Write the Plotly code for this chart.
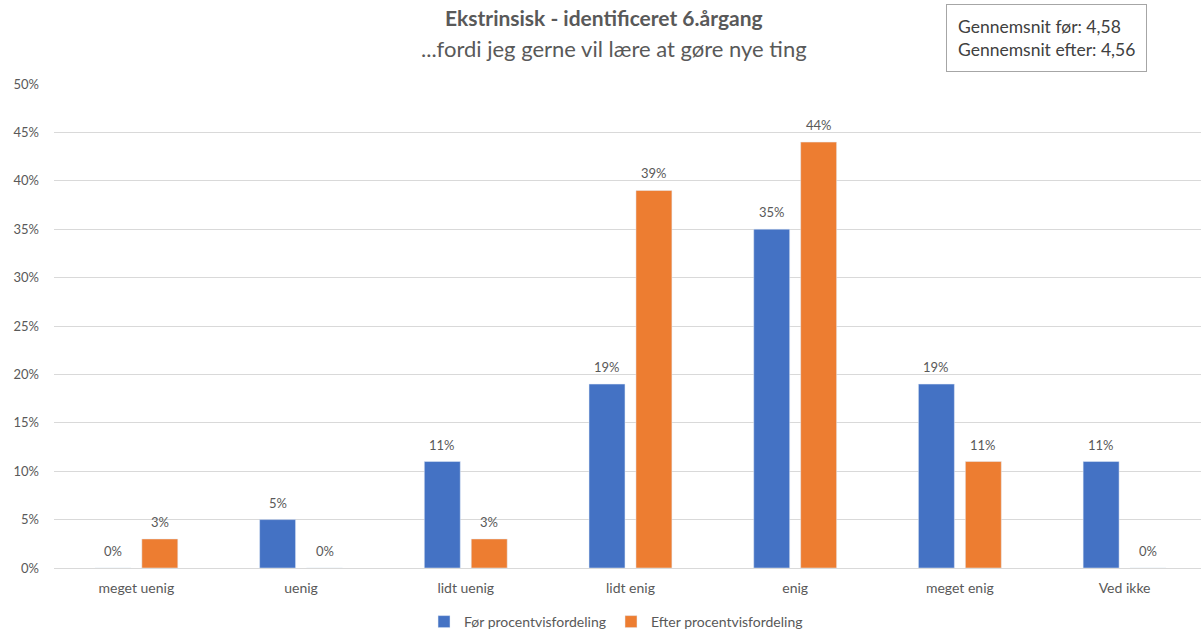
import plotly.graph_objects as go

categories = ["meget uenig", "uenig", "lidt uenig", "lidt enig", "enig", "meget enig", "Ved ikke"]
foer = [0, 5, 11, 19, 35, 19, 11]
efter = [3, 0, 3, 39, 44, 11, 0]
y_ticks = [0, 5, 10, 15, 20, 25, 30, 35, 40, 45, 50]

FONT = "Lato"
GREY = "#595959"
W, H = 1201, 632
ML, MR, MT, MB = 54, 0, 84, 64

fig = go.Figure()
fig.add_trace(go.Bar(x=categories, y=foer, name="Før procentvisfordeling",
                     marker=dict(color="#4472C4")))
fig.add_trace(go.Bar(x=categories, y=efter, name="Efter procentvisfordeling",
                     marker=dict(color="#ED7D31")))


def px_to_paper(px, py):
    return (px - ML) / (W - ML - MR), (H - MB - py) / (H - MT - MB)


annotations = []
# value labels above each bar
for vals, shift in ((foer, -23.5), (efter, 23.5)):
    for cat, v in zip(categories, vals):
        annotations.append(dict(
            x=cat, y=v, xref="x", yref="y", text=f"{v}%", showarrow=False,
            xshift=shift, yshift=17, yanchor="middle",
            font=dict(size=13, color=GREY),
        ))

tx, ty = px_to_paper(604, 18)
annotations.append(dict(text="<b>Ekstrinsisk - identificeret 6.årgang</b>", x=tx, y=ty,
                        xref="paper", yref="paper", xanchor="center", yanchor="middle",
                        showarrow=False, font=dict(size=21, color=GREY)))
sx, sy = px_to_paper(614, 48)
annotations.append(dict(text="...fordi jeg gerne vil lære at gøre nye ting", x=sx, y=sy,
                        xref="paper", yref="paper", xanchor="center", yanchor="middle",
                        showarrow=False, font=dict(size=22, color=GREY)))
bx, by = px_to_paper(1046, 37.5)
annotations.append(dict(text="Gennemsnit før: 4,58<br>Gennemsnit efter: 4,56", x=bx, y=by,
                        xref="paper", yref="paper", xanchor="center", yanchor="middle",
                        showarrow=False, align="left", font=dict(size=17.5, color="#404040"),
                        bordercolor="#a6a6a6", borderwidth=1, borderpad=11, bgcolor="white"))

fig.update_layout(
    width=W, height=H,
    margin=dict(l=ML, r=MR, t=MT, b=MB, autoexpand=False),
    paper_bgcolor="white", plot_bgcolor="white",
    font=dict(family=FONT, color=GREY, size=13),
    barmode="group", bargap=0.43, bargroupgap=0.234,
    showlegend=True,
    legend=dict(orientation="h", x=0.49, xanchor="center", yref="container", y=10 / H,
                yanchor="middle", font=dict(size=14, color=GREY), itemwidth=30,
                traceorder="normal"),
    annotations=annotations,
)

fig.update_xaxes(range=[-0.5, 6.464], showgrid=False, showline=False, zeroline=False,
                 tickfont=dict(size=14, color=GREY), ticklabelstandoff=10)
fig.update_yaxes(range=[0, 50], tickvals=y_ticks, ticktext=[f"{v}%" for v in y_ticks],
                 showgrid=True, gridcolor="#d9d9d9", gridwidth=1, zeroline=True,
                 zerolinecolor="#d9d9d9", zerolinewidth=1, showline=False,
                 tickfont=dict(size=13, color=GREY), ticklabelstandoff=14)

fig.write_html("out.html")
